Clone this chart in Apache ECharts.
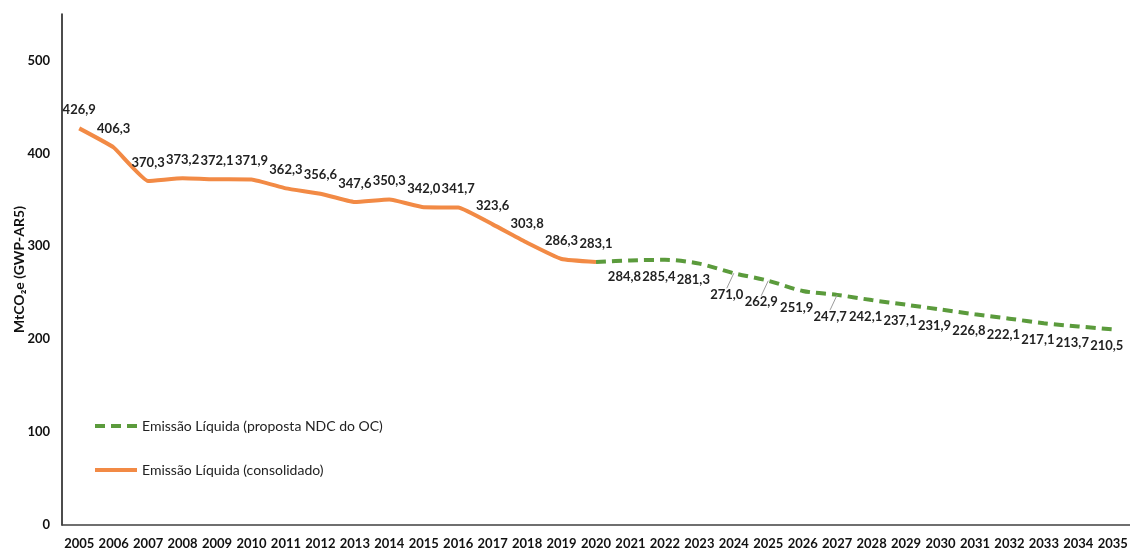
<!DOCTYPE html>
<html><head><meta charset="utf-8">
<script src="https://cdn.jsdelivr.net/npm/echarts@6/dist/echarts.min.js"></script>
<style>html,body{margin:0;padding:0;background:#fff}#c{width:1130px;height:549px}</style>
</head><body><div id="c"></div>
<script>
var years = ['2005','2006','2007','2008','2009','2010','2011','2012','2013','2014','2015','2016','2017','2018','2019','2020','2021','2022','2023','2024','2025','2026','2027','2028','2029','2030','2031','2032','2033','2034','2035'];
var consolidado = [426.9,406.3,370.3,373.2,372.1,371.9,362.3,356.6,347.6,350.3,342.0,341.7,323.6,303.8,286.3,283.1];
var proposta = [283.1,284.8,285.4,281.3,271.0,262.9,251.9,247.7,242.1,237.1,231.9,226.8,222.1,217.1,213.7,210.5];
var yTicks = [0,100,200,300,400,500];

var fmt = function(p){ var v = Array.isArray(p.value)?p.value[1]:p.value; return v.toFixed(1).replace('.', ','); };
var FONT = 'Lato';

var orangeData = years.map(function(y,i){ return i < consolidado.length ? consolidado[i] : null; });
var startIdx = years.length - proposta.length;
var leaderIdx = {19:true, 20:true, 22:true};
var greenData = years.map(function(y,i){
  if (i < startIdx) return null;
  var v = proposta[i-startIdx];
  if (i === startIdx) return {value: v, label:{show:false}};
  if (leaderIdx[i]) return {value: v, labelLine:{show:true,lineStyle:{color:'#9a9a9a',width:1}}};
  return v;
});

var chart = echarts.init(document.getElementById('c'));
chart.setOption({
  animation:false,
  grid:{left:62,right:0,top:14,bottom:24,containLabel:false,outerBoundsMode:'none'},
  legend:{
    orient:'vertical', left:88, top:414, itemGap:30, itemWidth:42, itemHeight:14,
    textStyle:{fontFamily:FONT,fontSize:14,color:'#222'},
    itemStyle:{opacity:0},
    lineStyle:{width:4},
    data:['Emissão Líquida (proposta NDC do OC)','Emissão Líquida (consolidado)']
  },
  xAxis:{
    type:'category', data:years, boundaryGap:true,
    axisLine:{lineStyle:{color:'#404040',width:1.5}},
    axisTick:{show:false},
    axisLabel:{fontFamily:FONT,fontWeight:'bold',fontSize:13,color:'#111',margin:12,interval:0}
  },
  yAxis:{
    type:'value', min:0, max:550, interval:100,
    name:'MtCO\u2082e (GWP-AR5)', nameLocation:'middle', nameGap:36, nameRotate:90, nameMoveOverlap:false,
    nameTextStyle:{fontFamily:FONT,fontWeight:'bold',fontSize:14,color:'#111'},
    axisLine:{show:true,lineStyle:{color:'#111',width:1.5}},
    axisTick:{show:false},
    splitLine:{show:false},
    axisLabel:{fontFamily:FONT,fontWeight:'bold',fontSize:13,color:'#111',margin:12,showMaxLabel:false,
      formatter:function(v){ return yTicks.indexOf(v)>=0 ? String(v) : ''; }}
  },
  series:[
    {
      name:'Emissão Líquida (proposta NDC do OC)', type:'line', data:greenData, smooth:0.3,
      symbol:'circle', symbolSize:0.01, showSymbol:true, connectNulls:false,
      lineStyle:{color:'#5B9B3C',width:4,type:[10,6]},
      itemStyle:{color:'#5B9B3C'},
      label:{show:true,position:'bottom',distance:10,formatter:fmt,
        fontFamily:FONT,fontWeight:'bold',fontSize:13,color:'#222'},
      labelLayout:function(p){ if(leaderIdx[p.dataIndex]) return {dx:-7,dy:5}; return {dx:-6}; },
      z:3
    },
    {
      name:'Emissão Líquida (consolidado)', type:'line', data:orangeData, smooth:0.12,
      symbol:'circle', symbolSize:0.01, showSymbol:true,
      lineStyle:{color:'#F28A45',width:4},
      itemStyle:{color:'#F28A45'},
      label:{show:true,position:'top',distance:12,formatter:fmt,
        fontFamily:FONT,fontWeight:'bold',fontSize:13,color:'#222'},
      z:4
    }
  ]
});
</script></body></html>
